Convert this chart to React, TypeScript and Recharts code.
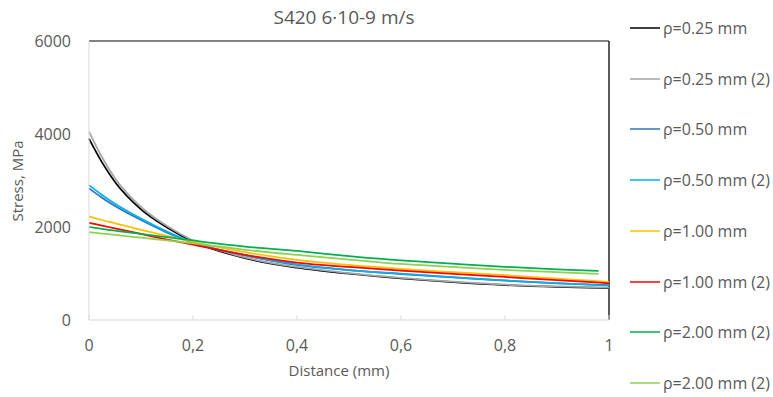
import React from "react";
import { LineChart, Line, XAxis, YAxis, ReferenceLine, Label } from "recharts";

const TITLE = "S420 6·10-9 m/s";
const X_LABEL = "Distance (mm)";
const Y_LABEL = "Stress, MPa";

const X_COMMON = [0, 0.025, 0.05, 0.1, 0.15, 0.2, 0.3, 0.4, 0.5, 0.6, 0.7, 0.8, 0.9];
const X_END_MAIN = 1.0;
const X_END_GREEN = 0.98;

const SERIES_NAMES = [
  "ρ=0.25 mm",
  "ρ=0.25 mm (2)",
  "ρ=0.50 mm",
  "ρ=0.50 mm (2)",
  "ρ=1.00 mm",
  "ρ=1.00 mm (2)",
  "ρ=2.00 mm (2)",
  "ρ=2.00 mm (2)",
];
const SERIES_COLORS = ["#000000", "#A5A5A5", "#2E75B6", "#00B0F0", "#FFC000", "#FF0000", "#00B050", "#92D050"];

// values at X_COMMON followed by value at the end x
const rho025 = [3900, 3390, 2970, 2380, 1990, 1690, 1330, 1125, 995, 895, 815, 752, 712, 688];
const rho025b = [4050, 3500, 3050, 2430, 2020, 1710, 1345, 1140, 1008, 905, 825, 760, 722, 698];
const rho050 = [2830, 2630, 2450, 2150, 1880, 1660, 1390, 1185, 1070, 985, 915, 845, 790, 750];
const rho050b = [2900, 2690, 2500, 2180, 1900, 1670, 1395, 1195, 1075, 995, 920, 850, 795, 740];
const rho100 = [2230, 2150, 2080, 1940, 1810, 1680, 1460, 1295, 1185, 1100, 1030, 965, 890, 820];
const rho100b = [2090, 2030, 1970, 1850, 1730, 1620, 1400, 1235, 1140, 1060, 990, 925, 860, 790];
const rho200b = [2000, 1960, 1920, 1850, 1780, 1710, 1580, 1485, 1375, 1280, 1210, 1145, 1090, 1054];
const rho200c = [1890, 1860, 1830, 1770, 1710, 1650, 1510, 1400, 1300, 1205, 1140, 1078, 1030, 990];

const SERIES_VALUES = [rho025, rho025b, rho050, rho050b, rho100, rho100b, rho200b, rho200c];
const SERIES_END_X = [X_END_MAIN, X_END_MAIN, X_END_MAIN, X_END_MAIN, X_END_MAIN, X_END_MAIN, X_END_GREEN, X_END_GREEN];

const X_TICKS = [0, 0.2, 0.4, 0.6, 0.8, 1];
const Y_TICKS = [0, 2000, 4000, 6000];

const rows: any[] = X_COMMON.map((x, i) => {
  const r: any = { x };
  SERIES_VALUES.forEach((vals, s) => {
    r["s" + s] = vals[i];
  });
  return r;
});
const endXs = Array.from(new Set(SERIES_END_X)).sort((a, b) => a - b);
endXs.forEach((ex) => {
  const r: any = { x: ex };
  SERIES_VALUES.forEach((vals, s) => {
    r["s" + s] = SERIES_END_X[s] === ex ? vals[vals.length - 1] : null;
  });
  rows.push(r);
});

const FONT = "'Open Sans', 'Noto Sans', sans-serif";
const TXT = "#595959";

const fmtX = (v: number) => String(v).replace(".", ",");

const XTick = (props: any) => {
  const { x, y, payload } = props;
  const axisY = y - 8;
  return (
    <g>
      <line x1={x} x2={x} y1={axisY} y2={axisY - 5} stroke="#D9D9D9" strokeWidth={1} />
      <text x={x} y={axisY + 25} textAnchor="middle" dominantBaseline="central" fill={TXT} fontSize={16} fontFamily={FONT}>
        {fmtX(payload.value)}
      </text>
    </g>
  );
};

const YLabel = () => {
  const cy = 181;
  const cx = 17;
  return (
    <text
      x={cx}
      y={cy}
      transform={`rotate(-90, ${cx}, ${cy})`}
      textAnchor="middle"
      dominantBaseline="central"
      fill={TXT}
      fontSize={15}
      fontFamily={FONT}
    >
      {Y_LABEL}
    </text>
  );
};

const XLabel = () => (
  <text x={339} y={370} textAnchor="middle" dominantBaseline="central" fill={TXT} fontSize={15} fontFamily={FONT}>
    {X_LABEL}
  </text>
);

export default function App() {
  return (
    <div style={{ position: "relative", width: 773, height: 397, background: "#fff" }}>
      <style>{`body{margin:0;}`}</style>
      <div
        style={{
          position: "absolute",
          left: 0,
          width: 688,
          top: 4,
          textAlign: "center",
          fontFamily: FONT,
          fontSize: 19,
          lineHeight: "26px",
          color: TXT,
          zIndex: 2,
        }}
      >
        {TITLE}
      </div>
      <div style={{ position: "absolute", left: 630, top: 0, fontFamily: FONT, fontSize: 16, color: TXT, zIndex: 2 }}>
        {SERIES_NAMES.map((n, i) => (
          <div
            key={i}
            style={{ position: "absolute", left: 0, top: 18 + i * 50.7, height: 20, display: "flex", alignItems: "center", whiteSpace: "nowrap" }}
          >
            <svg width={33} height={4} style={{ display: "block" }}>
              <line x1={0} x2={30} y1={2} y2={2} stroke={SERIES_COLORS[i]} strokeWidth={1.5} />
            </svg>
            <span>{n}</span>
          </div>
        ))}
      </div>
      <LineChart width={773} height={397} data={rows} margin={{ top: 41, right: 164, bottom: 0, left: 0 }}>
        <XAxis
          dataKey="x"
          type="number"
          domain={[0, 1]}
          ticks={X_TICKS}
          stroke="#D9D9D9"
          tickLine={false}
          tick={<XTick />}
          height={77}
        >
          <Label content={<XLabel />} />
        </XAxis>
        <YAxis
          type="number"
          domain={[0, 6000]}
          ticks={Y_TICKS}
          width={89}
          stroke="#D9D9D9"
          tickLine={false}
          tickSize={0}
          tickMargin={18}
          tick={{ fill: TXT, fontSize: 16, fontFamily: FONT }}
        >
          <Label content={<YLabel />} />
        </YAxis>
        <ReferenceLine y={6000} stroke="#595959" strokeWidth={1.5} />
        <ReferenceLine x={1} stroke="#262626" strokeWidth={1.5} />
        {SERIES_VALUES.map((_, s) => (
          <Line
            key={s}
            dataKey={"s" + s}
            name={SERIES_NAMES[s]}
            stroke={SERIES_COLORS[s]}
            strokeWidth={1.75}
            type="monotone"
            dot={false}
            connectNulls
            isAnimationActive={false}
          />
        ))}
      </LineChart>
    </div>
  );
}
